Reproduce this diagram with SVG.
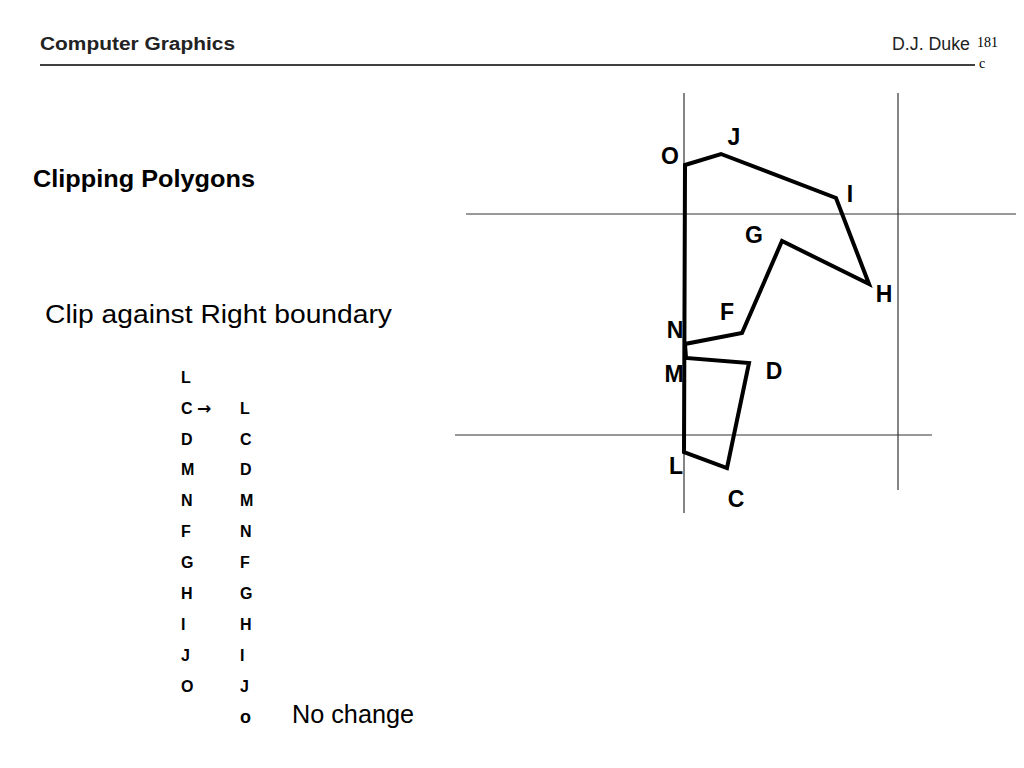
<svg xmlns="http://www.w3.org/2000/svg" width="1024" height="768" viewBox="0 0 1024 768">
<style>
.hdr{font-family:"Liberation Sans",Arial,sans-serif;font-weight:bold;font-size:18px;fill:#222}
.ser{font-family:"Liberation Serif","Times New Roman",serif;font-size:14px;fill:#000}
.lbl{font-family:"Liberation Sans",Arial,sans-serif;font-weight:bold;font-size:23px;fill:#000;text-anchor:middle;dominant-baseline:central}
.lst{font-family:"Liberation Sans",Arial,sans-serif;font-weight:bold;font-size:16px;fill:#000}
.thin{stroke:#333;stroke-width:1.2;fill:none}
.poly{stroke:#000;stroke-width:4;fill:none;stroke-linejoin:miter}
</style>
<rect width="1024" height="768" fill="#fff"/>
<g id="header">
<text x="40" y="50" class="hdr" textLength="195" lengthAdjust="spacingAndGlyphs">Computer Graphics</text>
<text x="892" y="50" class="hdr" style="font-weight:normal" textLength="78" lengthAdjust="spacingAndGlyphs">D.J. Duke</text>
<text x="977" y="47" class="ser">181</text>
<line x1="40" y1="65" x2="975" y2="65" stroke="#000" stroke-width="1.5"/>
<text x="979" y="68" class="ser">c</text>
</g>
<g id="title">
<text x="33" y="187" font-family="Liberation Sans,Arial,sans-serif" font-weight="bold" font-size="24" textLength="222" lengthAdjust="spacingAndGlyphs">Clipping Polygons</text>
<text x="45" y="323" font-family="Liberation Sans,Arial,sans-serif" font-size="26" textLength="347" lengthAdjust="spacingAndGlyphs">Clip against Right boundary</text>
</g>
<g id="clip-window">
<line class="thin" x1="684" y1="93" x2="684" y2="513"/>
<line class="thin" x1="898" y1="93" x2="898" y2="490"/>
<line class="thin" x1="466" y1="214" x2="1016" y2="214"/>
<line class="thin" x1="455" y1="435" x2="932" y2="435"/>
</g>
<g id="connectors">
<polygon class="poly" points="685,165 721,154 836,198 869,284 782,241 742,333 685,344 686,358 749,363 727,468 684,452"/>
</g>
<g id="vertex-labels">
<text class="lbl" x="670" y="156">O</text>
<text class="lbl" x="734" y="137">J</text>
<text class="lbl" x="850" y="194">I</text>
<text class="lbl" x="754" y="235">G</text>
<text class="lbl" x="884" y="294">H</text>
<text class="lbl" x="727" y="312">F</text>
<text class="lbl" x="675" y="330">N</text>
<text class="lbl" x="674" y="374">M</text>
<text class="lbl" x="774" y="371">D</text>
<text class="lbl" x="676" y="466">L</text>
<text class="lbl" x="736" y="499">C</text>
</g>
<g id="list-input" class="lst">
<text x="181" y="383">L</text>
<text x="181" y="414">C <tspan font-family="DejaVu Sans,sans-serif" font-size="17">→</tspan></text>
<text x="181" y="445">D</text>
<text x="181" y="475">M</text>
<text x="181" y="506">N</text>
<text x="181" y="537">F</text>
<text x="181" y="568">G</text>
<text x="181" y="599">H</text>
<text x="181" y="630">I</text>
<text x="181" y="661">J</text>
<text x="181" y="692">O</text>
</g>
<g id="list-output" class="lst">
<text x="240" y="414">L</text>
<text x="240" y="445">C</text>
<text x="240" y="475">D</text>
<text x="240" y="506">M</text>
<text x="240" y="537">N</text>
<text x="240" y="568">F</text>
<text x="240" y="599">G</text>
<text x="240" y="630">H</text>
<text x="240" y="661">I</text>
<text x="240" y="692">J</text>
<text x="240" y="723" font-size="18">o</text>
</g>
<text x="292" y="723" font-family="Liberation Sans,Arial,sans-serif" font-size="25" textLength="122" lengthAdjust="spacingAndGlyphs">No change</text>
</svg>
